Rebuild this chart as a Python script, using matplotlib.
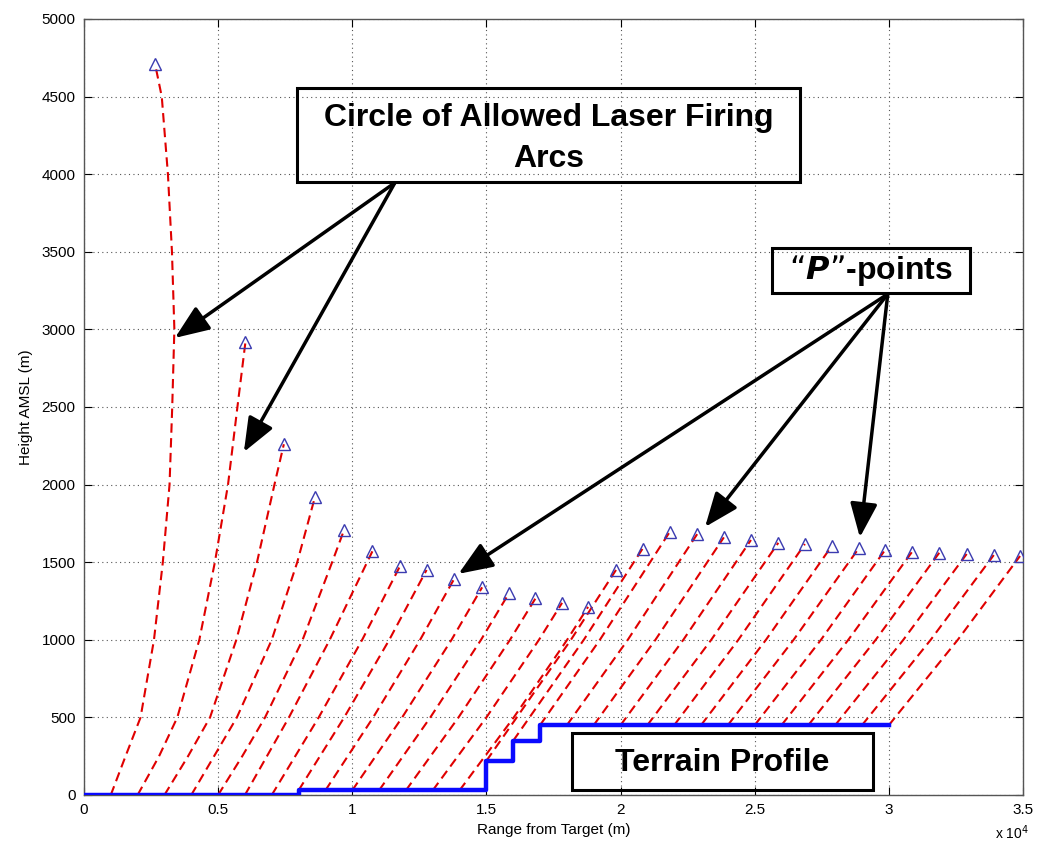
import matplotlib
matplotlib.use("Agg")
import matplotlib.pyplot as plt
from matplotlib import font_manager
from matplotlib.patches import Rectangle

# fonts: narrow look for axis text (like the matlab export), bold arial for the boxes
names = set(f.name for f in font_manager.fontManager.ttflist)
if "Liberation Sans Narrow" in names:
    tick_font, tick_size = "Liberation Sans Narrow", 13
else:
    tick_font, tick_size = "Liberation Sans", 11
box_font = "Liberation Sans"

# terrain profile (steps)
terrain_x = [0, 8000, 15000, 16000, 17000, 30000]
terrain_y = [0, 30, 220, 350, 450, 450]

# where each firing arc leaves the ground
arc_start_x = [1000, 2000, 3000, 4000, 5000, 6000, 7000, 8000, 9000, 10000,
               11000, 12000, 13000, 14000, 15000, 16000, 17000, 18000, 19000, 20000,
               21000, 22000, 23000, 24000, 25000, 26000, 27000, 28000, 29000, 30000]
arc_start_y = [0, 0, 0, 0, 0, 0, 0, 30, 30, 30,
               30, 30, 30, 30, 220, 350, 450, 450, 450, 450,
               450, 450, 450, 450, 450, 450, 450, 450, 450, 450]

# points read along each arc (between start and P-point)
arc_mid_x = [
    [1550, 2110, 2610, 2940, 3190, 3290, 3370, 3280, 3130, 2900],
    [2800, 3480, 4300, 4880, 5370, 5720],
    [3880, 4700, 5680, 6450, 7100],
    [4850, 5700, 7000, 7950],
    [5900, 6750, 8150, 9250],
    [7640, 9160],
    [8750, 10370],
    [9700, 11380],
    [10780, 12530],
    [11860, 13700],
    [12910, 14800],
    [13960, 15880],
    [15000, 16960],
    [16020, 18010],
    [18150], [18630], [19230], [20270], [21300], [22340],
    [23380], [24390], [25420], [26450], [27470], [28490],
    [29510], [30540], [31560], [32570],
]
arc_mid_y = [
    [250, 500, 1000, 1500, 2000, 2500, 3000, 3500, 4000, 4500],
    [250, 500, 1000, 1500, 2000, 2500],
    [250, 500, 1000, 1500, 2000],
    [250, 500, 1000, 1500],
    [250, 500, 1000, 1500],
    [500, 1000], [500, 1000], [500, 1000], [500, 1000], [500, 1000],
    [500, 1000], [500, 1000], [500, 1000], [500, 1000],
    [1000], [1000], [1000], [1000], [1000], [1000], [1000], [1000],
    [1000], [1000], [1000], [1000], [1000], [1000], [1000], [1000],
]

# "P"-points (end of each arc)
p_x = [2650, 6020, 7450, 8610, 9700, 10750, 11780, 12770, 13790, 14840,
       15840, 16830, 17820, 18790, 19830, 20820, 21840, 22860, 23850, 24860,
       25880, 26870, 27870, 28880, 29860, 30870, 31880, 32900, 33910, 34890]
p_y = [4710, 2920, 2260, 1920, 1710, 1570, 1475, 1450, 1390, 1338,
       1300, 1267, 1238, 1212, 1450, 1587, 1697, 1682, 1660, 1643,
       1625, 1617, 1604, 1590, 1579, 1568, 1561, 1553, 1546, 1540]

x_ticks = [0, 5000, 10000, 15000, 20000, 25000, 30000, 35000]
x_tick_labels = ["0", "0.5", "1", "1.5", "2", "2.5", "3", "3.5"]
y_ticks = [0, 500, 1000, 1500, 2000, 2500, 3000, 3500, 4000, 4500, 5000]

# annotation boxes: (x0, y0, x1, y1) in data units, and arrows
box_arcs = (7940, 3950, 26690, 4555)
box_p = (25640, 3235, 33020, 3524)
box_terrain = (18190, 32, 29410, 400)
arcs_arrow_tail = (11590, 3945)
arcs_arrow_tips = [(3390, 2945), (5960, 2210)]
p_arrow_tail = (29960, 3228)
p_arrow_tips = [(13960, 1425), (23150, 1727), (28920, 1660)]

fig = plt.figure(figsize=(10.39, 8.48), dpi=100)
ax = fig.add_axes([0.0808, 0.0625, 0.9038, 0.9151])

for i in range(len(arc_start_x)):
    xs = [arc_start_x[i]] + arc_mid_x[i] + [p_x[i]]
    ys = [arc_start_y[i]] + arc_mid_y[i] + [p_y[i]]
    ax.plot(xs, ys, color="#e00000", lw=1.5, linestyle=(0, (4.5, 2.6)), zorder=3)

ax.plot(terrain_x, terrain_y, drawstyle="steps-post", color="#0a0aff", lw=3.2, zorder=4)
ax.plot(p_x, p_y, linestyle="none", marker="^", ms=8, mfc="none", mec="#3b3bb0", mew=1.0, zorder=5)

ax.set_xlim(0, 35000)
ax.set_ylim(0, 5000)
ax.set_xticks(x_ticks)
ax.set_xticklabels(x_tick_labels)
ax.set_yticks(y_ticks)
ax.grid(True, linestyle=(0, (1, 3)), color="#555555", lw=0.8)
ax.tick_params(direction="in", top=True, right=True, length=6, width=0.8, labelsize=tick_size, pad=6)
for lab in ax.get_xticklabels() + ax.get_yticklabels():
    lab.set_family(tick_font)
for s in ax.spines.values():
    s.set_color("#555555")
    s.set_linewidth(1.0)

ax.set_xlabel("Range from Target (m)", family=tick_font, fontsize=tick_size, labelpad=4)
ax.set_ylabel("Height AMSL (m)", family=tick_font, fontsize=tick_size, labelpad=6)
fig.text(0.974, 0.029, r"x 10$^4$", family=tick_font, fontsize=tick_size - 1, ha="center", va="top")

# boxes
for (x0, y0, x1, y1) in [box_arcs, box_p, box_terrain]:
    ax.add_patch(Rectangle((x0, y0), x1 - x0, y1 - y0, fill=False, ec="black", lw=2.2, zorder=6))

bold = dict(family=box_font, fontweight="bold", fontsize=23, ha="center", va="center", zorder=7)
ax.text((box_arcs[0] + box_arcs[2]) / 2, 4365, "Circle of Allowed Laser Firing", **bold)
ax.text((box_arcs[0] + box_arcs[2]) / 2, 4100, "Arcs", **bold)
ax.text((box_p[0] + box_p[2]) / 2, (box_p[1] + box_p[3]) / 2, r"“$\bfit{P}$”-points", **bold)
ax.text((box_terrain[0] + box_terrain[2]) / 2, (box_terrain[1] + box_terrain[3]) / 2 - 10,
        "Terrain Profile", **bold)

arrow = dict(arrowstyle="-|>,head_length=0.95,head_width=0.38", color="black", lw=2.5,
             mutation_scale=22, shrinkA=0, shrinkB=0)
for tip in arcs_arrow_tips:
    ax.annotate("", xy=tip, xytext=arcs_arrow_tail, arrowprops=arrow, zorder=8)
for tip in p_arrow_tips:
    ax.annotate("", xy=tip, xytext=p_arrow_tail, arrowprops=arrow, zorder=8)

fig.savefig("out.png", dpi=100)
